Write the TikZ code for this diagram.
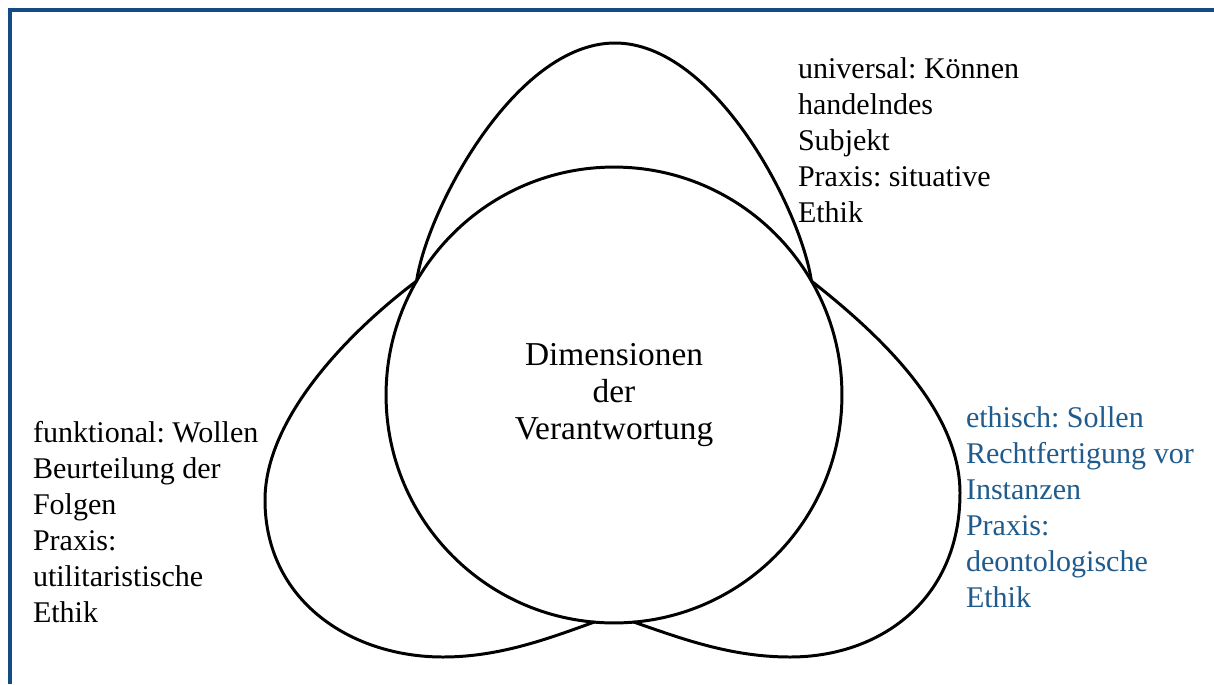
\documentclass[tikz,border=0pt]{standalone}
\usepackage{fontspec}
\setmainfont{Liberation Serif}
\definecolor{framecol}{RGB}{18,76,130}
\definecolor{ethicblue}{RGB}{31,91,141}
\newcommand{\sidefont}{\fontsize{17.1pt}{20.6pt}\selectfont\frenchspacing}
\newcommand{\corefont}{\fontsize{19pt}{21.3pt}\selectfont\frenchspacing}
\begin{document}
\begin{tikzpicture}[x=0.02cm,y=-0.02cm,
  outline/.style={draw=black,line width=1.7pt},
  lobe/.style={outline,line join=round,line cap=round},
  frameline/.style={draw=framecol,line width=2pt},
  sidetext/.style={inner sep=0pt,outer sep=0pt,anchor=base west,font=\sidefont}]
\useasboundingbox (0,0) rectangle (1214,684);
\coordinate (fb) at (10,684);
\coordinate (fc) at (10,10);
\coordinate (fr) at (1214,10);
\draw[frameline] (fb) -- (fc) -- (fr);

\node[outline,circle,fill=white,minimum size=9.12cm,inner sep=0pt,outer sep=0pt,
      align=center,font=\corefont] (core) at (614,395)
      {Dimensionen\\der\\Verantwortung};

% top lobe
\coordinate (toptip) at (615,43);
\draw[lobe] (core.150) .. controls (427,210) and (515,43) .. (toptip)
                       .. controls (715,43) and (801,210) .. (core.30);
% left lobe
\coordinate (leftside) at (265,500);
\coordinate (leftbottom) at (443,657);
\draw[lobe] (core.150) .. controls (345,335) and (265,420) .. (leftside)
                       .. controls (265,600) and (350,657) .. (leftbottom)
                       .. controls (500,657) and (550,638) .. (core.265);
% right lobe
\coordinate (rightside) at (960,493);
\coordinate (rightbottom) at (790,657);
\draw[lobe] (core.30) .. controls (880,335) and (960,410) .. (rightside)
                      .. controls (960,600) and (880,657) .. (rightbottom)
                      .. controls (730,657) and (680,638) .. (core.275);

\node[sidetext] (universal) at (798,78)
  {\begin{tabular}[t]{@{}l@{}}universal: Können\\handelndes\\Subjekt\\Praxis: situative\\Ethik\end{tabular}};
\node[sidetext] (funktional) at (33,442)
  {\begin{tabular}[t]{@{}l@{}}funktional: Wollen\\Beurteilung der\\Folgen\\Praxis:\\utilitaristische\\Ethik\end{tabular}};
\node[sidetext,text=ethicblue] (ethisch) at (966,427)
  {\begin{tabular}[t]{@{}l@{}}ethisch: Sollen\\Rechtfertigung vor\\Instanzen\\Praxis:\\deontologische\\Ethik\end{tabular}};
\end{tikzpicture}
\end{document}
